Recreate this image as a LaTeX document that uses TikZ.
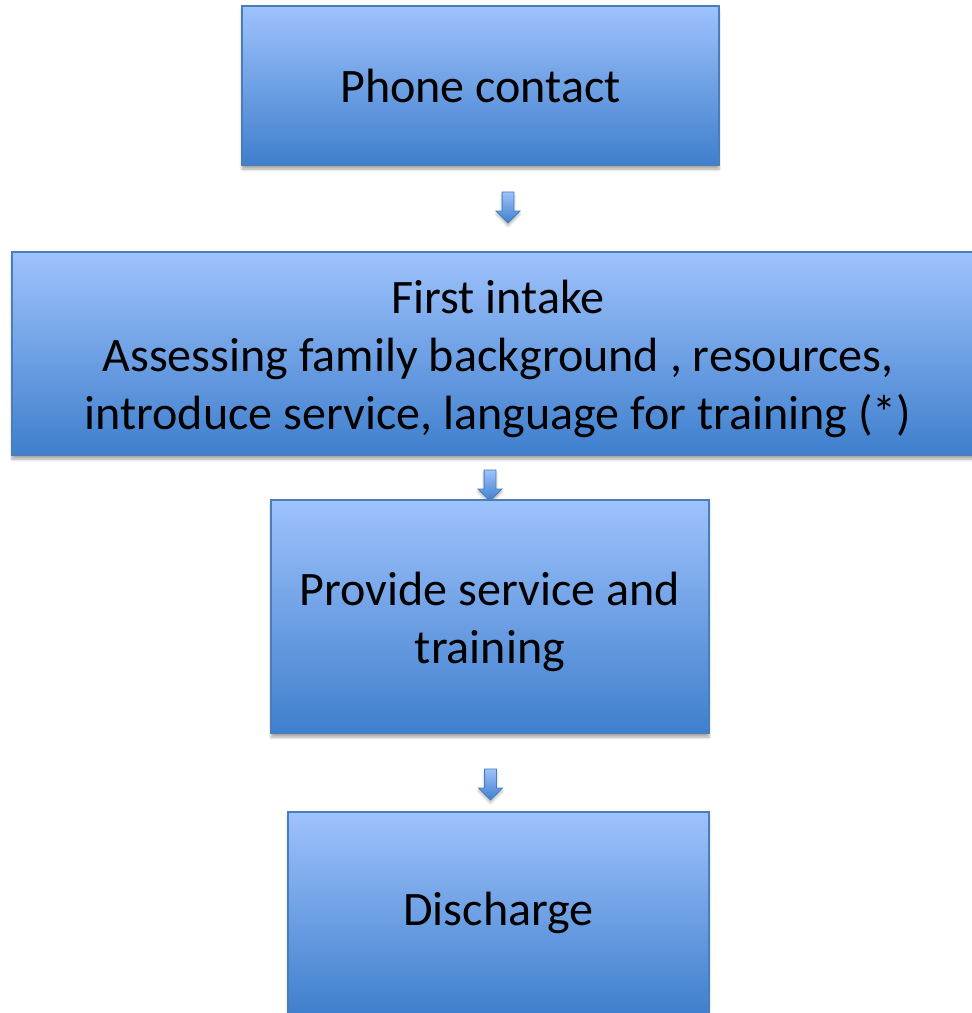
\documentclass[tikz,border=0pt]{standalone}
\usepackage{fontspec}
\setmainfont{Carlito}
\usetikzlibrary{shapes.arrows}
\usetikzlibrary{shadows.blur}

\definecolor{boxtop}{RGB}{158,194,252}
\definecolor{boxbottom}{RGB}{63,127,205}
\definecolor{boxline}{RGB}{74,126,187}

% pads the first line so the text sits a little lower
\newcommand{\toppad}{\rule{0pt}{1.1cm}}

\tikzset{
    stage/.style={draw=boxline, line width=0.8pt, top color=boxtop, bottom color=boxbottom,
        align=center, inner sep=0pt, font=\fontsize{34.2}{41}\selectfont,
        blur shadow={shadow xshift=0pt, shadow yshift=-3pt, shadow blur steps=6, shadow opacity=35}},
    downarrow/.style={single arrow, draw=boxline, line width=0.6pt, top color=boxtop, bottom color=boxbottom,
        shape border rotate=270, single arrow head extend=0.15cm, single arrow head indent=0pt,
        minimum height=0.775cm, minimum width=0.575cm, inner sep=0.1375cm,
        blur shadow={shadow xshift=0pt, shadow yshift=-2pt, shadow blur steps=4, shadow opacity=30}}
}

\begin{document}
\begin{tikzpicture}

    \useasboundingbox (0,0) rectangle (24.275,-25.325);

    % first contact
    \node[stage, minimum width=11.925cm, minimum height=3.975cm] (phone) at (12.0125,-2.1375) {Phone contact};
    \node[downarrow] (arrow-phone) at (12.7,-5.1125) {};


    % intake
    \node[stage, minimum width=24.3cm, minimum height=5.075cm] (intake) at (12.45,-8.8375)
        {\toppad First intake\\Assessing family background , resources,\\introduce service, language for training (*)};
    \node[downarrow] (arrow-intake) at (12.25,-12.0625) {};


    % service
    \node[stage, minimum width=10.95cm, minimum height=5.825cm] (service) at (12.25,-15.4125)
        {\toppad Provide service and\\training};
    \node[downarrow] (arrow-service) at (12.2625,-19.5375) {};


    % end
    \node[stage, minimum width=10.525cm, minimum height=5.05cm] (discharge) at (12.4625,-22.825) {Discharge};

\end{tikzpicture}
\end{document}
